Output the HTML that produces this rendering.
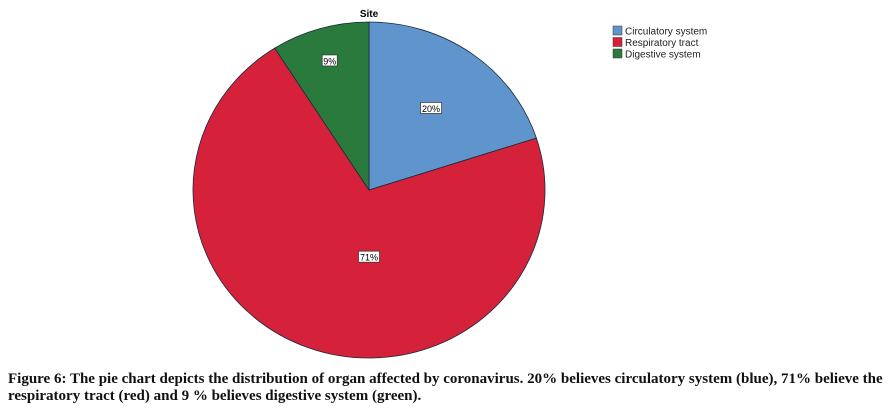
<!DOCTYPE html>
<html><head><meta charset="utf-8"><style>
body{margin:0;width:894px;height:416px;background:#fff;overflow:hidden;position:relative;font-family:"Liberation Sans",sans-serif}
#cap{position:absolute;left:8px;top:371px;width:1000px;font-family:"Liberation Serif",serif;font-weight:bold;font-size:15px;line-height:16.5px;color:#111;white-space:nowrap}
</style></head><body>
<svg id="chart" width="894" height="370" style="position:absolute;left:0;top:0">
<text x="369" y="17" text-anchor="middle" font-size="10" font-weight="bold">Site</text>
<g id="slices"></g><g id="labels"></g><g id="legend"></g>
</svg>
<div id="cap">Figure 6: The pie chart depicts the distribution of organ affected by coronavirus. 20% believes circulatory system (blue), 71% believe the<br>respiratory tract (red) and 9 % believes digestive system (green).</div>
<script>
const categories=["Circulatory system","Respiratory tract","Digestive system"];
const values=[20,71,9];
const labels=["20%","71%","9%"];
const colors=["#5f95cc","#d5213a","#2a7a3e"];
const cx=369,cy=190,rx=176,ry=168;
const NS="http://www.w3.org/2000/svg";
const total=values.reduce((a,b)=>a+b,0);
let acc=0;
const sg=document.getElementById('slices'),lg=document.getElementById('labels'),leg=document.getElementById('legend');
function pt(a,f){return [cx+rx*f*Math.sin(a),cy-ry*f*Math.cos(a)];}
values.forEach((v,i)=>{
 const a0=acc/total*2*Math.PI; acc+=v; const a1=acc/total*2*Math.PI;
 const p0=pt(a0,1),p1=pt(a1,1);
 const p=document.createElementNS(NS,'path');
 p.setAttribute('d',`M${cx},${cy}L${p0[0]},${p0[1]}A${rx},${ry} 0 ${a1-a0>Math.PI?1:0} 1 ${p1[0]},${p1[1]}Z`);
 p.setAttribute('fill',colors[i]);p.setAttribute('stroke','#1a2a3a');p.setAttribute('stroke-width','0.8');
 
 
 sg.appendChild(p);
 const f=v<15?0.8:(v>50?0.4:0.6);
 let m=pt((a0+a1)/2,f);
 if(v>50){m=[cx,cy+ry*0.4];}
 const w=labels[i].length*6+3;
 const r=document.createElementNS(NS,'rect');
 r.setAttribute('x',m[0]-w/2);r.setAttribute('y',m[1]-6);r.setAttribute('width',w);r.setAttribute('height',11);
 r.setAttribute('fill','#fff');r.setAttribute('stroke','#333');r.setAttribute('stroke-width','0.7');
 
 
 lg.appendChild(r);
 const t=document.createElementNS(NS,'text');
 t.setAttribute('x',m[0]);t.setAttribute('y',m[1]+3.5);t.setAttribute('text-anchor','middle');t.setAttribute('font-size','9');
 t.textContent=labels[i];
 
 
 lg.appendChild(t);
 const s=document.createElementNS(NS,'rect');
 s.setAttribute('x',613);s.setAttribute('y',26+i*11.5);s.setAttribute('width',9);s.setAttribute('height',9);
 s.setAttribute('fill',colors[i]);s.setAttribute('stroke','#333');s.setAttribute('stroke-width','0.5');
 
 
 leg.appendChild(s);
 const lt=document.createElementNS(NS,'text');
 lt.setAttribute('x',625);lt.setAttribute('y',34.5+i*11.5);lt.setAttribute('font-size','10');lt.setAttribute('fill','#222');
 lt.textContent=categories[i];
 
 
 leg.appendChild(lt);
});
</script>
</body></html>
